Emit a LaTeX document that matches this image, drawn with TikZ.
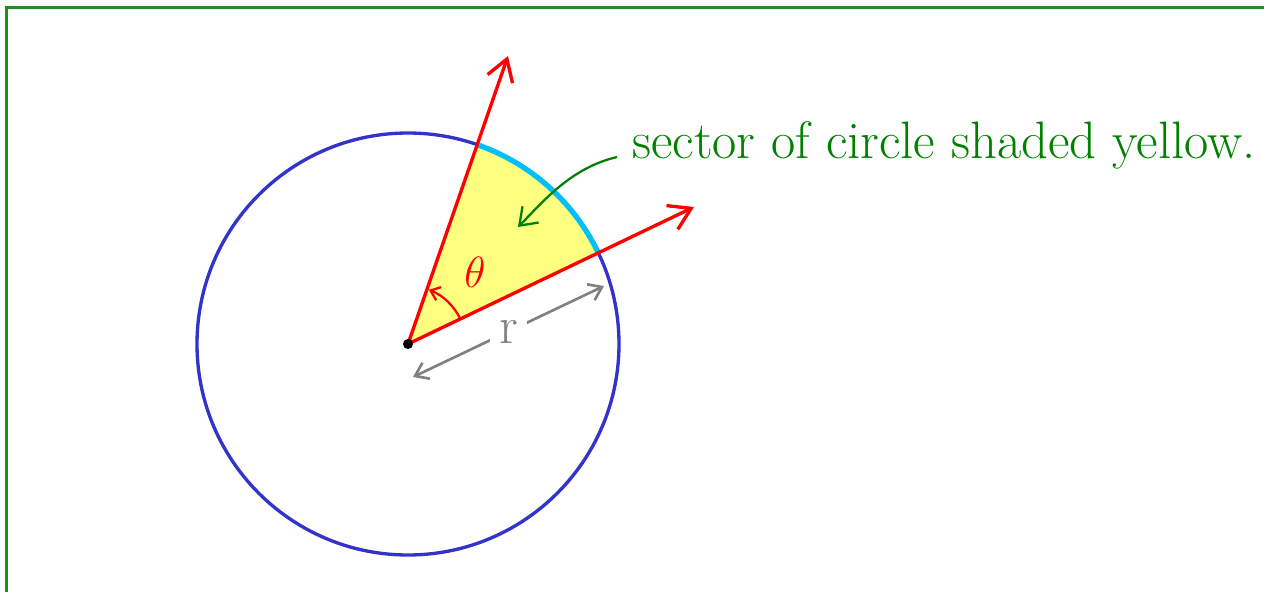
\documentclass[tikz,border=0pt]{standalone}
\usetikzlibrary{arrows.meta}
\definecolor{framegreen}{RGB}{34,139,34}
\definecolor{textgreen}{RGB}{0,128,0}
\definecolor{circleblue}{RGB}{51,51,204}
\definecolor{sectoryellow}{RGB}{255,255,128}
\definecolor{arccyan}{RGB}{0,191,255}
\tikzset{
  ray/.style={red, line width=1.9pt, -{Straight Barb[length=12pt,width=15pt,line width=1.9pt]}},
  anglearrow/.style={red, line width=1.3pt, -{Straight Barb[length=5pt,width=8pt,line width=1.3pt]}},
  radiusarrow/.style={gray, line width=1.5pt, {Straight Barb[length=7pt,width=10pt,line width=1.5pt]}-{Straight Barb[length=7pt,width=10pt,line width=1.5pt]}},
  pointer/.style={textgreen, line width=1.3pt, -{Straight Barb[length=9pt,width=13pt,line width=1.3pt]}}
}
\begin{document}
\begin{tikzpicture}[x=0.02cm, y=-0.02cm]
\useasboundingbox (0,0) rectangle (1264,592);

% Cadre
\draw[framegreen, line width=1.7pt] (6.5,592) -- (6.5,7.5) -- (1264,7.5);

\coordinate (O) at (408,344);
\coordinate (A) at (508,56);
\coordinate (B) at (694,207);

% Secteur
\fill[sectoryellow] (O) -- ++(-25.6:211) arc[start angle=-25.6, end angle=-70.9, radius=211] -- cycle;

% Cercle
\draw[circleblue, line width=1.9pt] (O) circle[radius=211];
\draw[arccyan, line width=3pt] (O) ++(-25.6:211) arc[start angle=-25.6, end angle=-70.9, radius=211];

% Rayons
\draw[ray] (O) -- (A);
\draw[ray] (O) -- (B);

% Angle
\draw[anglearrow] (O) ++(-25.6:58) arc[start angle=-25.6, end angle=-69, radius=58];
\node[red, font=\fontsize{29}{32}\selectfont] (theta) at (475,272) {$\theta$};

\fill (O) circle[radius=5];

% Rayon r
\coordinate (r1) at (413,377);
\coordinate (r2) at (604,286);
\draw[radiusarrow] (r1) -- node[fill=white, text=gray, inner sep=5pt, font=\fontsize{30}{32}\selectfont] (rlabel) {r} (r2);

% Legende
\node[anchor=base west, textgreen, inner sep=0pt, font=\fontsize{30}{34}\selectfont] (caption) at (632,158)
{sector of circle shaded yellow.};
\coordinate (tail) at (617,157);
\coordinate (head) at (518,227);
\draw[pointer] (tail) .. controls (570,168) and (542,203) .. (head);

\end{tikzpicture}
\end{document}
